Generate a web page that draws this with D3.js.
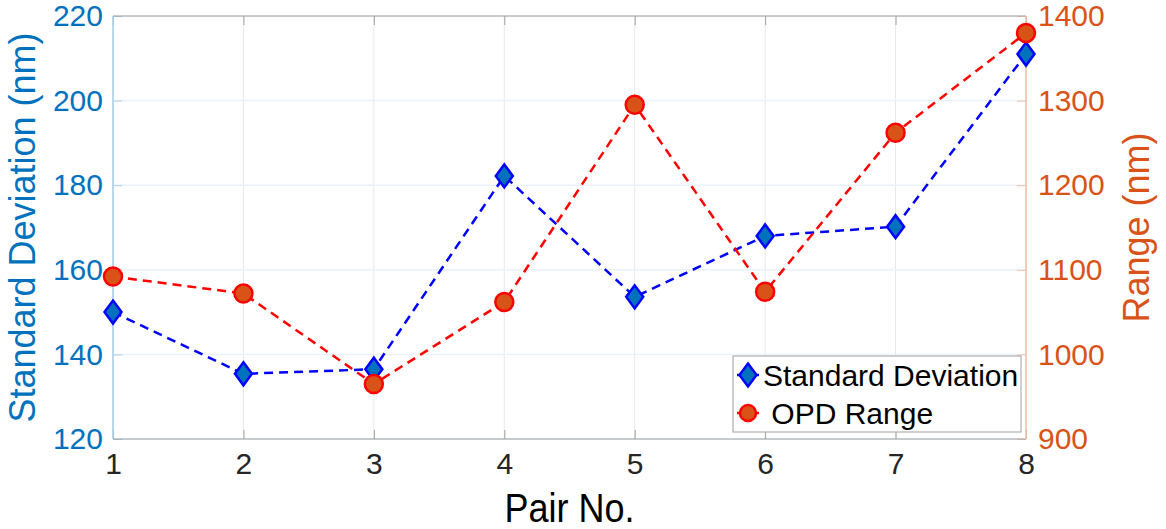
<!DOCTYPE html>
<html lang="en">
  <head>
    <meta charset="utf-8" />
    <title>Standard Deviation and OPD Range per Pair</title>
    <script src="https://d3js.org/d3.v7.min.js"></script>
    <style>
      body { margin: 0; background: #fff; }
      svg text { font-family: "Liberation Sans", Arial, sans-serif; }
    </style>
  </head>
  <body>
    <div id="chart"></div>
    <script>
      // Data
      const pairs = [1, 2, 3, 4, 5, 6, 7, 8];
      const stdDev = [150, 135.4, 136.5, 182.2, 153.6, 168, 170.2, 211];
      const opdRange = [1092, 1072, 965, 1062, 1295, 1074, 1262, 1380];
      const leftTicks = [120, 140, 160, 180, 200, 220];
      const rightTicks = [900, 1000, 1100, 1200, 1300, 1400];

      // Chart dimensions
      const W = 1166, H = 529;
      const margin = { top: 16, right: 140, bottom: 90, left: 113 },
        width = W - margin.left - margin.right,
        height = H - margin.top - margin.bottom;

      const blue = "#0072BD", orange = "#D95319";

      const svg = d3
        .select("#chart")
        .append("svg")
        .attr("width", W)
        .attr("height", H)
        .append("g")
        .attr("transform", `translate(${margin.left},${margin.top})`);

      // Scales
      const x = d3.scaleLinear().domain([1, 8]).range([0, width]);
      const yL = d3.scaleLinear().domain([120, 220]).range([height, 0]);
      const yR = d3.scaleLinear().domain([900, 1400]).range([height, 0]);

      // Grid lines
      svg.append("g")
        .selectAll("line")
        .data(pairs)
        .join("line")
        .attr("x1", (d) => x(d)).attr("x2", (d) => x(d))
        .attr("y1", 0).attr("y2", height)
        .attr("stroke", "#e8e8e8").attr("stroke-width", 1);
      svg.append("g")
        .selectAll("line")
        .data(leftTicks)
        .join("line")
        .attr("x1", 0).attr("x2", width)
        .attr("y1", (d) => yL(d)).attr("y2", (d) => yL(d))
        .attr("stroke", "#eaf2f9").attr("stroke-width", 1.5);

      // Axes (ticks inside, box drawn separately)
      const xAxis = svg.append("g")
        .attr("transform", `translate(0,${height})`)
        .call(d3.axisBottom(x).tickValues(pairs).tickSize(-9).tickPadding(14).tickFormat(d3.format("d")));
      xAxis.select(".domain").remove();
      xAxis.selectAll("line").attr("stroke", "#a0a0a0");
      xAxis.selectAll("text").attr("font-size", 30).attr("fill", "#262626");

      const xTop = svg.append("g")
        .call(d3.axisTop(x).tickValues(pairs).tickSize(-9).tickFormat(""));
      xTop.select(".domain").remove();
      xTop.selectAll("line").attr("stroke", "#a0a0a0");

      const yAxisL = svg.append("g")
        .call(d3.axisLeft(yL).tickValues(leftTicks).tickSize(-9).tickPadding(10).tickFormat(d3.format("d")));
      yAxisL.select(".domain").remove();
      yAxisL.selectAll("line").attr("stroke", "#a9cfe9");
      yAxisL.selectAll("text").attr("font-size", 30).attr("fill", blue);

      const yAxisR = svg.append("g")
        .attr("transform", `translate(${width},0)`)
        .call(d3.axisRight(yR).tickValues(rightTicks).tickSize(-9).tickPadding(12).tickFormat(d3.format("d")));
      yAxisR.select(".domain").remove();
      yAxisR.selectAll("line").attr("stroke", "#f3bfa8");
      yAxisR.selectAll("text").attr("font-size", 30).attr("fill", orange);

      // Box
      svg.append("line").attr("x1", 0).attr("x2", width).attr("y1", 0).attr("y2", 0).attr("stroke", "#a0a0a0");
      svg.append("line").attr("x1", 0).attr("x2", width).attr("y1", height).attr("y2", height).attr("stroke", "#a0a0a0");
      svg.append("line").attr("x1", 0).attr("x2", 0).attr("y1", 0).attr("y2", height).attr("stroke", "#a9cfe9").attr("stroke-width", 1.5);
      svg.append("line").attr("x1", width).attr("x2", width).attr("y1", 0).attr("y2", height).attr("stroke", "#f3bfa8").attr("stroke-width", 1.5);

      // Axis labels
      svg.append("text")
        .attr("text-anchor", "middle")
        .attr("transform", `translate(${35 - margin.left},${height / 2}) rotate(-90)`)
        .attr("font-size", 36)
        .attr("fill", blue)
        .text("Standard Deviation (nm)");

      svg.append("text")
        .attr("text-anchor", "middle")
        .attr("transform", `translate(${1149 - margin.left},${height / 2}) rotate(-90)`)
        .attr("font-size", 36)
        .attr("fill", orange)
        .text("Range (nm)");

      svg.append("text")
        .attr("text-anchor", "middle")
        .attr("transform", `translate(${width / 2},${522 - margin.top}) scale(0.9,1)`)
        .attr("font-size", 40)
        .attr("fill", "#000")
        .text("Pair No.");

      // Lines
      const sdData = pairs.map((p, i) => ({ x: p, y: stdDev[i] }));
      const opdData = pairs.map((p, i) => ({ x: p, y: opdRange[i] }));

      const diamond = (cx, cy) =>
        `M${cx},${cy - 11.5}L${cx + 8.5},${cy}L${cx},${cy + 11.5}L${cx - 8.5},${cy}Z`;

      svg.append("path")
        .datum(sdData)
        .attr("fill", "none")
        .attr("stroke", "#0000FF")
        .attr("stroke-width", 2.5)
        .attr("stroke-dasharray", "9,6")
        .attr("d", d3.line().x((d) => x(d.x)).y((d) => yL(d.y)));

      svg.append("g")
        .selectAll("path")
        .data(sdData)
        .join("path")
        .attr("d", (d) => diamond(x(d.x), yL(d.y)))
        .attr("fill", blue)
        .attr("stroke", "#0000FF")
        .attr("stroke-width", 2.5);

      svg.append("path")
        .datum(opdData)
        .attr("fill", "none")
        .attr("stroke", "#FF0000")
        .attr("stroke-width", 2.5)
        .attr("stroke-dasharray", "9,6")
        .attr("d", d3.line().x((d) => x(d.x)).y((d) => yR(d.y)));

      svg.append("g")
        .selectAll("circle")
        .data(opdData)
        .join("circle")
        .attr("cx", (d) => x(d.x))
        .attr("cy", (d) => yR(d.y))
        .attr("r", 9)
        .attr("fill", orange)
        .attr("stroke", "#FF0000")
        .attr("stroke-width", 2.5);

      // Legend
      const lg = svg.append("g").attr("transform", `translate(${733 - margin.left},${356 - margin.top})`);
      lg.append("rect")
        .attr("width", 288).attr("height", 76)
        .attr("fill", "#fff").attr("stroke", "#a0a0a0").attr("stroke-width", 1);

      const rows = [
        { label: "Standard Deviation", tx: 30, y: 19, kind: "d" },
        { label: " OPD Range", tx: 30, y: 57, kind: "c" },
      ];
      rows.forEach((r) => {
        lg.append("line")
          .attr("x1", 4).attr("x2", 26).attr("y1", r.y).attr("y2", r.y)
          .attr("stroke", r.kind === "d" ? "#0000FF" : "#FF0000")
          .attr("stroke-width", 2.5);
        if (r.kind === "d") {
          lg.append("path").attr("d", diamond(15, r.y))
            .attr("fill", blue).attr("stroke", "#0000FF").attr("stroke-width", 2.5);
        } else {
          lg.append("circle").attr("cx", 15).attr("cy", r.y).attr("r", 8)
            .attr("fill", orange).attr("stroke", "#FF0000").attr("stroke-width", 2.5);
        }
        lg.append("text")
          .attr("x", r.tx).attr("y", r.y)
          .attr("dy", "0.36em")
          .attr("font-size", 30)
          .style("white-space", "pre")
          .attr("fill", "#000")
          .text(r.label);
      });
    </script>
  </body>
</html>
